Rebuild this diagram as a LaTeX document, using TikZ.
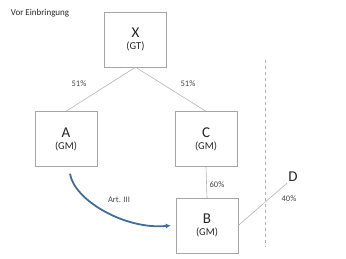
\documentclass[tikz,border=0pt]{standalone}
\usepackage{fontspec}
\setmainfont{Carlito}
\usetikzlibrary{positioning,arrows.meta}
\definecolor{boxgray}{HTML}{A6A6A6}
\definecolor{linegray}{HTML}{B4B4B4}
\definecolor{artblue}{HTML}{3F6E9E}
\definecolor{textdark}{HTML}{262626}

\begin{document}
\begin{tikzpicture}[x=1pt, y=-1pt, >=Latex,
  entity/.style={draw=boxgray, fill=white, minimum width=62pt, minimum height=55pt, align=center, inner sep=0pt, text=textdark},
  share/.style={font=\fontsize{8.5}{9}\selectfont, text=textdark!85, inner sep=1pt},
  link/.style={draw=linegray, line width=0.6pt}]
  \useasboundingbox (0,0) rectangle (346,259);
  \node[font=\fontsize{9}{10}\selectfont, text=textdark, inner sep=0pt] (title) at (40,13) {Vor Einbringung};

  \node[entity] (X) at (135.5,39.5) {{\fontsize{15}{15}\selectfont X}\\[0pt]{\fontsize{10.5}{11}\selectfont (GT)}};
  \node[entity] (A) at (66,139) {{\fontsize{15}{15}\selectfont A}\\[0pt]{\fontsize{10.5}{11}\selectfont (GM)}};
  \node[entity] (C) at (206,139) {{\fontsize{15}{15}\selectfont C}\\[0pt]{\fontsize{10.5}{11}\selectfont (GM)}};
  \node[entity] (B) at (207,225.5) {{\fontsize{15}{15}\selectfont B}\\[0pt]{\fontsize{10.5}{11}\selectfont (GM)}};
  \node[font=\fontsize{15}{15}\selectfont, text=textdark, inner sep=1pt] (D) at (293,177) {D};

  % Beteiligungen
  \draw[link] (X.south) -- (A.north);
  \draw[link] (X.south) -- (C.north);
  \draw[link] (C.south) -- (B.north);
  \draw[link] (B.east) -- (D.south west);

  \node[share] (xa) at (79,84) {51\%};
  \node[share] (xc) at (188,84) {51\%};
  \node[share] (cb) at (217,185) {60\%};
  \node[share] (db) at (289,199) {40\%};

  % Grenze
  \coordinate (dtop) at (265,60);
  \coordinate (dbot) at (265,247);
  \draw[linegray, dashed, line width=0.6pt] (dtop) -- (dbot);

  % Einbringung
  \draw[artblue, line width=1.8pt, -{Latex[length=5pt,width=5pt]}]
    ([shift={(4,7)}]A.south) .. controls (74,200) and (125,230) .. ([xshift=-5pt]B.west);
  \node[share] (art) at (119,200) {Art. III};
\end{tikzpicture}
\end{document}
